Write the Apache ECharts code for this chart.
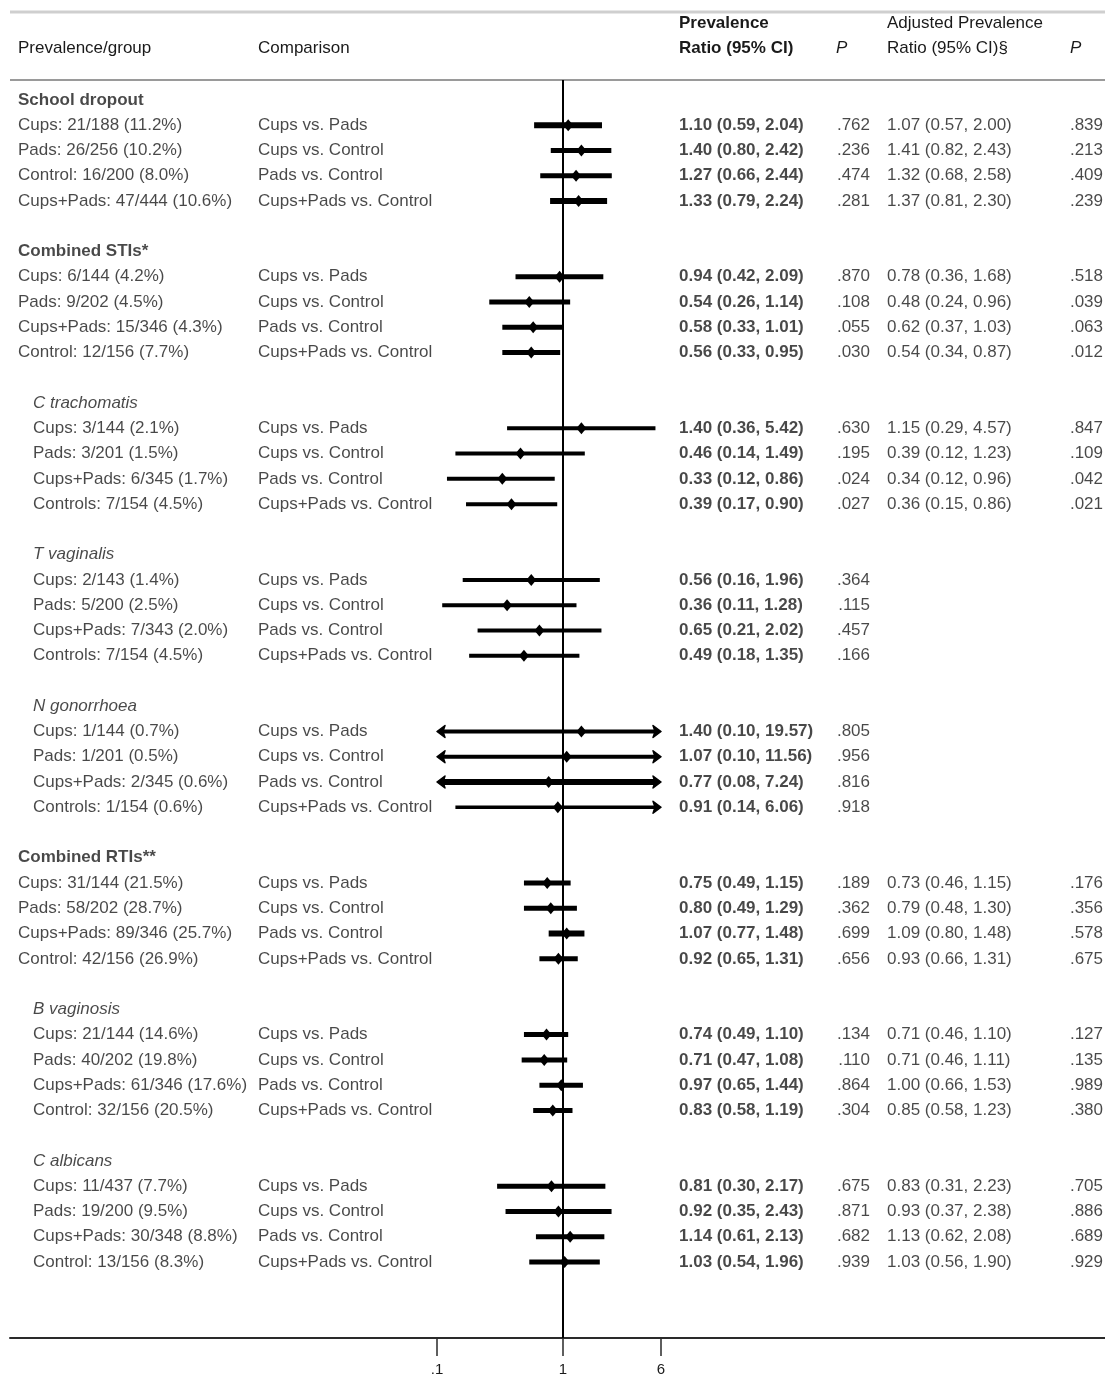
<!DOCTYPE html>
<html>
<head>
<meta charset="utf-8">
<script src="https://cdn.jsdelivr.net/npm/echarts@6/dist/echarts.min.js"></script>
<style>
  html, body { margin: 0; padding: 0; background: #ffffff; }
  #main { width: 1105px; height: 1377px; }
</style>
</head>
<body>
<div id="main"></div>
<script>
// ---------------- data ----------------
const groupNames = ['School dropout', 'Combined STIs*', 'C trachomatis', 'T vaginalis',
  'N gonorrhoea', 'Combined RTIs**', 'B vaginosis', 'C albicans'];

const prevalenceLabels = [
  ['Cups: 21/188 (11.2%)', 'Pads: 26/256 (10.2%)', 'Control: 16/200 (8.0%)', 'Cups+Pads: 47/444 (10.6%)'],
  ['Cups: 6/144 (4.2%)', 'Pads: 9/202 (4.5%)', 'Cups+Pads: 15/346 (4.3%)', 'Control: 12/156 (7.7%)'],
  ['Cups: 3/144 (2.1%)', 'Pads: 3/201 (1.5%)', 'Cups+Pads: 6/345 (1.7%)', 'Controls: 7/154 (4.5%)'],
  ['Cups: 2/143 (1.4%)', 'Pads: 5/200 (2.5%)', 'Cups+Pads: 7/343 (2.0%)', 'Controls: 7/154 (4.5%)'],
  ['Cups: 1/144 (0.7%)', 'Pads: 1/201 (0.5%)', 'Cups+Pads: 2/345 (0.6%)', 'Controls: 1/154 (0.6%)'],
  ['Cups: 31/144 (21.5%)', 'Pads: 58/202 (28.7%)', 'Cups+Pads: 89/346 (25.7%)', 'Control: 42/156 (26.9%)'],
  ['Cups: 21/144 (14.6%)', 'Pads: 40/202 (19.8%)', 'Cups+Pads: 61/346 (17.6%)', 'Control: 32/156 (20.5%)'],
  ['Cups: 11/437 (7.7%)', 'Pads: 19/200 (9.5%)', 'Cups+Pads: 30/348 (8.8%)', 'Control: 13/156 (8.3%)']
];

const comparisons = ['Cups vs. Pads', 'Cups vs. Control', 'Pads vs. Control', 'Cups+Pads vs. Control'];

// Prevalence ratio, 95% CI and P, four comparisons per outcome
const prEst = [1.10, 1.40, 1.27, 1.33,  0.94, 0.54, 0.58, 0.56,  1.40, 0.46, 0.33, 0.39,  0.56, 0.36, 0.65, 0.49,
               1.40, 1.07, 0.77, 0.91,  0.75, 0.80, 1.07, 0.92,  0.74, 0.71, 0.97, 0.83,  0.81, 0.92, 1.14, 1.03];
const prLow = [0.59, 0.80, 0.66, 0.79,  0.42, 0.26, 0.33, 0.33,  0.36, 0.14, 0.12, 0.17,  0.16, 0.11, 0.21, 0.18,
               0.10, 0.10, 0.08, 0.14,  0.49, 0.49, 0.77, 0.65,  0.49, 0.47, 0.65, 0.58,  0.30, 0.35, 0.61, 0.54];
const prHigh = [2.04, 2.42, 2.44, 2.24,  2.09, 1.14, 1.01, 0.95,  5.42, 1.49, 0.86, 0.90,  1.96, 1.28, 2.02, 1.35,
                19.57, 11.56, 7.24, 6.06,  1.15, 1.29, 1.48, 1.31,  1.10, 1.08, 1.44, 1.19,  2.17, 2.43, 2.13, 1.96];
const prP = [0.762, 0.236, 0.474, 0.281,  0.870, 0.108, 0.055, 0.030,  0.630, 0.195, 0.024, 0.027,  0.364, 0.115, 0.457, 0.166,
             0.805, 0.956, 0.816, 0.918,  0.189, 0.362, 0.699, 0.656,  0.134, 0.110, 0.864, 0.304,  0.675, 0.871, 0.682, 0.939];

// Adjusted prevalence ratio (not estimated for T vaginalis and N gonorrhoea)
const adjEst = [1.07, 1.41, 1.32, 1.37,  0.78, 0.48, 0.62, 0.54,  1.15, 0.39, 0.34, 0.36,  null, null, null, null,
                null, null, null, null,  0.73, 0.79, 1.09, 0.93,  0.71, 0.71, 1.00, 0.85,  0.83, 0.93, 1.13, 1.03];
const adjLow = [0.57, 0.82, 0.68, 0.81,  0.36, 0.24, 0.37, 0.34,  0.29, 0.12, 0.12, 0.15,  null, null, null, null,
                null, null, null, null,  0.46, 0.48, 0.80, 0.66,  0.46, 0.46, 0.66, 0.58,  0.31, 0.37, 0.62, 0.56];
const adjHigh = [2.00, 2.43, 2.58, 2.30,  1.68, 0.96, 1.03, 0.87,  4.57, 1.23, 0.96, 0.86,  null, null, null, null,
                 null, null, null, null,  1.15, 1.30, 1.48, 1.31,  1.10, 1.11, 1.53, 1.23,  2.23, 2.38, 2.08, 1.90];
const adjP = [0.839, 0.213, 0.409, 0.239,  0.518, 0.039, 0.063, 0.012,  0.847, 0.109, 0.042, 0.021,  null, null, null, null,
              null, null, null, null,  0.176, 0.356, 0.578, 0.675,  0.127, 0.135, 0.989, 0.380,  0.705, 0.886, 0.689, 0.929];

const tickValues = [0.1, 1, 6];
const tickLabels = ['.1', '1', '6'];

// ---------------- styling / layout ----------------
const FONT = '"Liberation Sans", Arial, Helvetica, sans-serif';
const FONT_SIZE = 17;
const TEXT_COLOR = '#1a1a1a';
const subgroupIndent = [false, false, true, true, true, false, true, true];
const ciStroke = [6, 5, 5, 6,  5, 5, 5, 5,  4, 4, 4, 4,  4, 4, 4, 4,
                  4, 4, 6, 3.5,  5, 5, 6, 5,  5, 5, 5, 5,  5, 5, 5, 5];
const CLIP_LO = 0.1, CLIP_HI = 6;          // CIs beyond these get arrowheads
const COL = { group: 18, groupIndent: 33, comparison: 258, pr: 679, prP: 870, adj: 887, adjP: 1103 };
const GRID = { left: 10, right: 0, top: 80, bottom: 37 };
const X_MIN = Math.pow(10, -4.389), X_MAX = Math.pow(10, 4.302);
const Y_MIN = -0.79, Y_MAX = 49.01;

// ---------------- build rows ----------------
const fmt2 = v => v.toFixed(2);
const fmtP = v => v.toFixed(3).replace(/^0/, '');
const textItems = [];
const ciData = [];

function addText(x, row, text, extra) {
  textItems.push({ value: [x, row, text], label: extra || {} });
}

groupNames.forEach((name, g) => {
  const headRow = g * 6;
  const indentX = subgroupIndent[g] ? COL.groupIndent : COL.group;
  addText(indentX, headRow, name, subgroupIndent[g] ? { fontStyle: 'italic' } : { fontWeight: 'bold' });
  for (let k = 0; k < 4; k++) {
    const i = g * 4 + k;
    const row = headRow + 1 + k;
    addText(indentX, row, prevalenceLabels[g][k]);
    addText(COL.comparison, row, comparisons[k]);
    addText(COL.pr, row, fmt2(prEst[i]) + ' (' + fmt2(prLow[i]) + ', ' + fmt2(prHigh[i]) + ')', { fontWeight: 'bold' });
    addText(COL.prP, row, fmtP(prP[i]), { position: 'left', align: 'right' });
    if (adjEst[i] != null) {
      addText(COL.adj, row, fmt2(adjEst[i]) + ' (' + fmt2(adjLow[i]) + ', ' + fmt2(adjHigh[i]) + ')');
      addText(COL.adjP, row, fmtP(adjP[i]), { position: 'left', align: 'right' });
    }
    ciData.push([row, prEst[i], prLow[i], prHigh[i]]);
  }
});

// ---------------- chart ----------------
function renderCI(params, api) {
  const row = api.value(0), est = api.value(1), lo = api.value(2), hi = api.value(3);
  const w = ciStroke[params.dataIndex];
  const arrowL = lo <= CLIP_LO, arrowR = hi >= CLIP_HI;
  const a = api.coord([Math.max(lo, CLIP_LO), row]);
  const b = api.coord([Math.min(hi, CLIP_HI), row]);
  const m = api.coord([est, row]);
  const y = m[1];
  const children = [{
    type: 'line',
    shape: { x1: a[0] + (arrowL ? 5 : 0), y1: y, x2: b[0] - (arrowR ? 5 : 0), y2: y },
    style: { stroke: '#000', lineWidth: w }
  }];
  if (arrowL) {
    children.push({ type: 'polygon', shape: { points: [[a[0], y], [a[0] + 8, y - 6], [a[0] + 6, y], [a[0] + 8, y + 6]] },
      style: { fill: '#000', stroke: '#000', lineWidth: 1.5, lineJoin: 'round' } });
  }
  if (arrowR) {
    children.push({ type: 'polygon', shape: { points: [[b[0], y], [b[0] - 8, y - 6], [b[0] - 6, y], [b[0] - 8, y + 6]] },
      style: { fill: '#000', stroke: '#000', lineWidth: 1.5, lineJoin: 'round' } });
  }
  children.push({ type: 'polygon', shape: { points: [[m[0] - 5, y], [m[0], y - 6], [m[0] + 5, y], [m[0], y + 6]] },
    style: { fill: '#000' } });
  return { type: 'group', children };
}

const headerText = (x, y, text, font) => ({
  type: 'text', x, y, silent: true,
  style: { text, font: font || (FONT_SIZE + 'px ' + FONT), fill: TEXT_COLOR, verticalAlign: 'middle', textVerticalAlign: 'middle' }
});

const chart = echarts.init(document.getElementById('main'), null, { renderer: 'canvas' });
chart.setOption({
  backgroundColor: '#ffffff',
  animation: false,
  grid: GRID,
  xAxis: [{
    type: 'log', min: X_MIN, max: X_MAX, position: 'bottom',
    axisLine: { show: true, onZero: false, lineStyle: { color: '#2a2a2a', width: 2 } },
    axisTick: { show: true, customValues: tickValues, length: 18, lineStyle: { color: '#2a2a2a', width: 1.5 } },
    axisLabel: {
      customValues: tickValues, margin: 24, color: TEXT_COLOR, fontSize: 15, fontFamily: FONT,
      formatter: v => {
        let best = 0;
        tickValues.forEach((t, i) => { if (Math.abs(Math.log(v / t)) < Math.abs(Math.log(v / tickValues[best]))) best = i; });
        return tickLabels[best];
      }
    },
    splitLine: { show: false }
  }, {
    type: 'value', min: GRID.left, max: 1105 - GRID.right, show: false
  }],
  yAxis: { type: 'value', min: Y_MIN, max: Y_MAX, inverse: true, show: false },
  graphic: [
    { type: 'line', silent: true, shape: { x1: 10, y1: 12, x2: 1105, y2: 12 }, style: { stroke: '#cfcfcf', lineWidth: 3 } },
    { type: 'line', silent: true, shape: { x1: 10, y1: 80, x2: 1105, y2: 80 }, style: { stroke: '#9a9a9a', lineWidth: 2 } },
    headerText(COL.group, 48, 'Prevalence/group'),
    headerText(COL.comparison, 48, 'Comparison'),
    headerText(COL.pr, 23, 'Prevalence', 'bold ' + FONT_SIZE + 'px ' + FONT),
    headerText(COL.pr, 48, 'Ratio (95% CI)', 'bold ' + FONT_SIZE + 'px ' + FONT),
    headerText(836, 48, 'P', 'italic ' + FONT_SIZE + 'px ' + FONT),
    headerText(COL.adj, 23, 'Adjusted Prevalence'),
    headerText(COL.adj, 48, 'Ratio (95% CI)§'),
    headerText(1070, 48, 'P', 'italic ' + FONT_SIZE + 'px ' + FONT)
  ],
  series: [
    {
      name: 'reference', type: 'line', xAxisIndex: 0, yAxisIndex: 0, data: [], silent: true,
      markLine: {
        silent: true, symbol: 'none', label: { show: false },
        lineStyle: { color: '#000', width: 2, type: 'solid' },
        data: [{ xAxis: 1 }]
      }
    },
    {
      name: 'Prevalence ratio', type: 'custom', xAxisIndex: 0, yAxisIndex: 0,
      data: ciData, encode: { x: [1, 2, 3], y: 0 }, renderItem: renderCI, silent: true, clip: false
    },
    {
      name: 'table', type: 'scatter', xAxisIndex: 1, yAxisIndex: 0, symbolSize: 0, silent: true, clip: false,
      itemStyle: { color: 'transparent' },
      label: {
        show: true, position: 'right', distance: 0, color: TEXT_COLOR,
        fontSize: FONT_SIZE, fontFamily: FONT, formatter: p => p.value[2]
      },
      data: textItems
    }
  ]
});
</script>
</body>
</html>
